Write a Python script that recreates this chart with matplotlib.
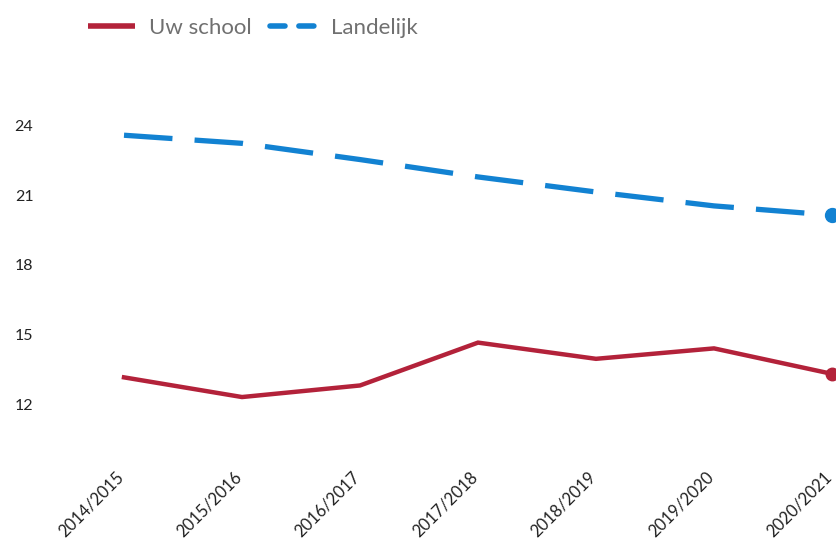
import matplotlib
matplotlib.use("Agg")
import matplotlib.pyplot as plt
from matplotlib.lines import Line2D
from matplotlib.transforms import ScaledTranslation

years = ["2014/2015", "2015/2016", "2016/2017", "2017/2018", "2018/2019", "2019/2020", "2020/2021"]
uw_school = [13.15, 12.3, 12.8, 14.65, 13.95, 14.4, 13.3]
landelijk = [23.6, 23.25, 22.55, 21.8, 21.15, 20.55, 20.15]
y_ticks = [12, 15, 18, 21, 24]

red = "#B3223A"
blue = "#1282D2"

plt.rcParams['font.family'] = ['Lato', 'DejaVu Sans']

fig = plt.figure(figsize=(8.37, 5.44), dpi=100)
ax = fig.add_axes([50/837, (544-440)/544, 787/837, 380/544])

x = list(range(len(years)))
ax.plot(x, uw_school, color=red, lw=3.2, solid_joinstyle='miter',
        marker='o', markersize=9, markevery=[len(x)-1], zorder=3)
ax.plot(x, landelijk, color=blue, lw=3.8, linestyle=(0, (9.2, 4.2)), dash_capstyle='butt',
        marker='o', markersize=10, markevery=[len(x)-1], zorder=3)

ax.set_xlim((50-124)/118, (837-124)/118)
ax.set_ylim(12 - (440-404)/23.17, 12 + (404-60)/23.17)

ax.set_yticks(y_ticks)
ax.set_yticklabels([str(v) for v in y_ticks], fontsize=11.5, color="#222222")
ax.set_xticks(x)
ax.set_xticklabels(years, fontsize=12, color="#222222", rotation=45,
                   ha='right', va='top', rotation_mode='anchor')
ax.tick_params(axis='y', length=0, pad=12)
ax.tick_params(axis='x', length=0, pad=21)
offset = ScaledTranslation(-6/72, 0, fig.dpi_scale_trans)
for lab in ax.get_xticklabels():
    lab.set_transform(lab.get_transform() + offset)
for s in ax.spines.values():
    s.set_visible(False)

handles = [Line2D([], [], color=red, lw=4.0, solid_capstyle='butt'),
           Line2D([], [], color=blue, lw=4.0, linestyle=(0, (2.7, 2.5)), dash_capstyle='round')]
fig.legend(handles, ["Uw school", "Landelijk"], loc='center left',
           bbox_to_anchor=(68/837, 1 - 28/544), ncol=2, frameon=False,
           fontsize=16, labelcolor="#707070", handlelength=2.1,
           handletextpad=0.65, columnspacing=0.8)

fig.savefig("out.png", dpi=100)
